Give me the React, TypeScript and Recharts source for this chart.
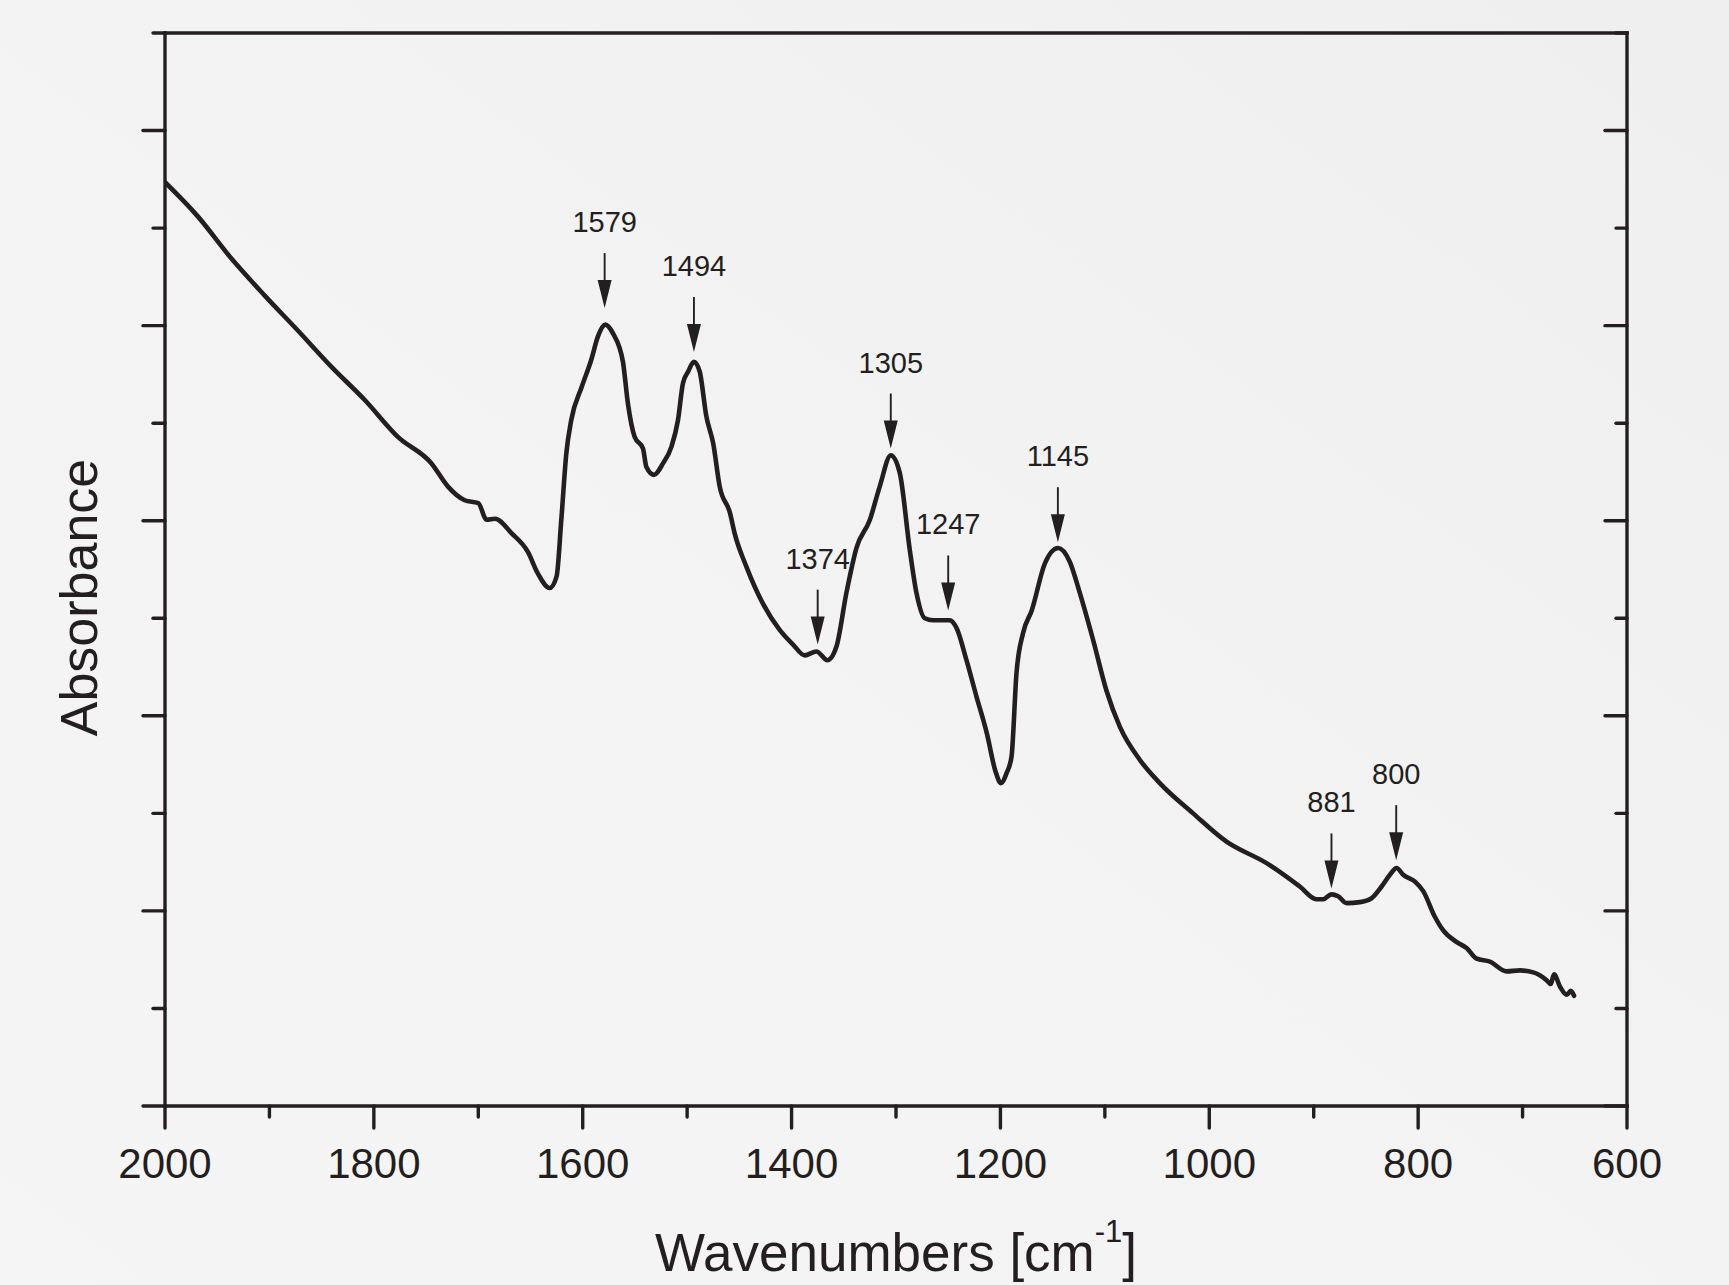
import React from 'react';
import { LineChart, Line, XAxis, YAxis, ReferenceDot } from 'recharts';

const INK = '#231f20';
const FONT = '"Liberation Sans", Arial, Helvetica, sans-serif';

// Spectrum (wavenumber, absorbance in axis units)
const wavenumbers = [
  2000, 1968.6, 1936.6, 1904.7, 1872.8, 1840.8, 1808.9, 1777, 1745, 1729, 1713, 1700, 1692, 1684,
  1668, 1652.5, 1643, 1631.7, 1625, 1620.5, 1615.7, 1611, 1601, 1591.8, 1585.4, 1578.3, 1571,
  1561.5, 1556.7, 1550.3, 1542.3, 1539, 1531.8, 1523, 1515, 1508.8, 1504, 1499, 1493.5, 1488,
  1481.6, 1475, 1468.8, 1459, 1454.5, 1443.3, 1427.4, 1411.4, 1398.6, 1387.4, 1376.2, 1365.7,
  1357, 1347.5, 1337.9, 1325, 1315.6, 1305, 1296.4, 1286.8, 1280.4, 1272.5, 1264.5, 1248.5, 1242,
  1232.5, 1223, 1213, 1204.7, 1199.5, 1194.2, 1189.4, 1184.6, 1178.3, 1170, 1157.5, 1144.8,
  1133.6, 1124, 1111.3, 1098.5, 1085.7, 1066.6, 1047.4, 1015.5, 983.5, 945.2, 913.3, 897.3, 891,
  883, 876.6, 868.5, 855.8, 844.6, 835, 827, 820.6, 814.3, 803, 795, 784, 776, 763, 753.6, 744,
  731.3, 715.3, 702.5, 689.8, 677, 673, 669.9, 664, 657.7, 653.8, 650.7,
];
const absorbance = [
  9.47, 9.12, 8.69, 8.31, 7.95, 7.58, 7.24, 6.86, 6.59, 6.35, 6.21, 6.18, 6.01, 6.02,
  5.87, 5.68, 5.46, 5.31, 5.43, 6.01, 6.69, 7.03, 7.37, 7.65, 7.89, 8.01, 7.92,
  7.63, 7.2, 6.86, 6.74, 6.55, 6.47, 6.59, 6.76, 7.03, 7.41, 7.53, 7.63, 7.53,
  7.07, 6.79, 6.35, 6.08, 5.87, 5.53, 5.15, 4.88, 4.73, 4.62, 4.66, 4.57,
  4.71, 5.26, 5.72, 6.01, 6.35, 6.67, 6.49, 5.7, 5.26, 5.0, 4.98, 4.98, 4.9,
  4.57, 4.2, 3.82, 3.43, 3.31, 3.41, 3.58, 4.44, 4.85, 5.08, 5.56, 5.72,
  5.58, 5.26, 4.78, 4.26, 3.89, 3.55, 3.31, 3.0, 2.71, 2.49, 2.25, 2.12, 2.12,
  2.17, 2.15, 2.08, 2.09, 2.13, 2.25, 2.37, 2.44, 2.37, 2.3, 2.2, 1.94, 1.8, 1.68, 1.62, 1.51,
  1.48, 1.38, 1.39, 1.37, 1.29, 1.25, 1.35, 1.22, 1.14, 1.18, 1.13,
];

const xTicks = [2000, 1900, 1800, 1700, 1600, 1500, 1400, 1300, 1200, 1100, 1000, 900, 800, 700, 600];
const yTicks = [0, 1, 2, 3, 4, 5, 6, 7, 8, 9, 10, 11];

const peakLabels = ['1579', '1494', '1374', '1305', '1247', '1145', '881', '800'];
const peakPositions = [1579, 1493.5, 1375, 1305, 1250, 1145, 883, 821];
const arrowTips = [8.18, 7.73, 4.73, 6.74, 5.08, 5.78, 2.23, 2.52];

const data = wavenumbers.map((wn, i) => ({ wn, a: absorbance[i] }));

const isMajorX = (v: number) => v % 200 === 0;
const isMajorY = (v: number) => v % 2 === 0;

const TICK_W = 3.4;

const BottomTick = (p: any) => {
  const { x, y, payload } = p;
  const major = isMajorX(payload.value);
  return (
    <g>
      <line x1={x} y1={y} x2={x} y2={y + (major ? 22 : 11)} stroke={INK} strokeWidth={TICK_W} strokeLinecap="round" />
      {major && (
        <text x={x} y={y + 72} textAnchor="middle" fontSize={42} fill={INK} fontFamily={FONT}>
          {payload.value}
        </text>
      )}
    </g>
  );
};

const TopTick = (p: any) => {
  const { x, y, payload } = p;
  const major = isMajorX(payload.value);
  return <line x1={x} y1={y} x2={x} y2={y + (major ? 22 : 11)} stroke={INK} strokeWidth={TICK_W} strokeLinecap="round" />;
};

const LeftTick = (p: any) => {
  const { x, y, payload } = p;
  const major = isMajorY(payload.value);
  return <line x1={x} y1={y} x2={x - (major ? 22 : 12)} y2={y} stroke={INK} strokeWidth={TICK_W} strokeLinecap="round" />;
};

const RightTick = (p: any) => {
  const { x, y, payload } = p;
  const major = isMajorY(payload.value);
  return <line x1={x} y1={y} x2={x - (major ? 22 : 11)} y2={y} stroke={INK} strokeWidth={TICK_W} strokeLinecap="round" />;
};

const XTitle = (p: any) => {
  const vb = p.viewBox || { x: 165, y: 1106, width: 1462, height: 100 };
  const cx = vb.x + vb.width / 2;
  const by = vb.y + 165;
  return (
    <text x={cx} y={by} textAnchor="middle" fontSize={53} fill={INK} fontFamily={FONT}>
      <tspan>Wavenumbers [cm</tspan>
      <tspan fontSize={31} dy={-29}>-1</tspan>
      <tspan dy={29}>]</tspan>
    </text>
  );
};

const YTitle = (p: any) => {
  const vb = p.viewBox || { x: 65, y: 33, width: 100, height: 1073 };
  const bx = vb.x + 32;
  const cy = vb.y + vb.height / 2 + 28;
  return (
    <text
      x={bx}
      y={cy}
      transform={`rotate(-90, ${bx}, ${cy})`}
      textAnchor="middle"
      fontSize={52}
      fill={INK}
      fontFamily={FONT}
    >
      Absorbance
    </text>
  );
};

const makeArrow = (label: string) => (p: any) => {
  const { cx, cy } = p;
  return (
    <g>
      <line x1={cx} y1={cy - 55} x2={cx} y2={cy - 26} stroke={INK} strokeWidth={1.9} />
      <polygon points={`${cx - 7},${cy - 28} ${cx + 7},${cy - 28} ${cx},${cy}`} fill={INK} />
      <text x={cx} y={cy - 76} textAnchor="middle" fontSize={29} fill={INK} fontFamily={FONT}>
        {label}
      </text>
    </g>
  );
};

const axisLineStyle = { stroke: INK, strokeWidth: TICK_W, strokeLinecap: 'square' as const };

export default function App() {
  return (
    <div
      style={{
        position: 'absolute',
        left: 0,
        top: 0,
        width: 1729,
        height: 1285,
        background: 'linear-gradient(to top right, #f5f5f5 0%, #f3f3f3 50%, #efefef 100%)',
      }}
    >
      <LineChart width={1729} height={1285} data={data} margin={{ top: 32, right: 101, bottom: 79, left: 65 }}>
        <XAxis
          xAxisId="bottom"
          dataKey="wn"
          type="number"
          domain={[600, 2000]}
          reversed
          allowDataOverflow
          ticks={xTicks}
          interval={0}
          tickSize={0}
          tickMargin={0}
          tickLine={false}
          tick={(p: any) => <BottomTick {...p} />}
          axisLine={axisLineStyle}
          height={100}
          label={(p: any) => <XTitle {...p} />}
        />
        <XAxis
          xAxisId="top"
          orientation="top"
          type="number"
          domain={[600, 2000]}
          reversed
          allowDataOverflow
          ticks={xTicks}
          interval={0}
          tickSize={0}
          tickMargin={0}
          tickLine={false}
          tick={(p: any) => <TopTick {...p} />}
          axisLine={axisLineStyle}
          height={1}
        />
        <YAxis
          yAxisId="left"
          type="number"
          domain={[0, 11]}
          allowDataOverflow
          ticks={yTicks}
          interval={0}
          tickSize={0}
          tickMargin={0}
          tickLine={false}
          tick={(p: any) => <LeftTick {...p} />}
          axisLine={axisLineStyle}
          width={100}
          label={(p: any) => <YTitle {...p} />}
        />
        <YAxis
          yAxisId="right"
          orientation="right"
          type="number"
          domain={[0, 11]}
          allowDataOverflow
          ticks={yTicks}
          interval={0}
          tickSize={0}
          tickMargin={0}
          tickLine={false}
          tick={(p: any) => <RightTick {...p} />}
          axisLine={axisLineStyle}
          width={1}
        />
        <Line
          xAxisId="bottom"
          yAxisId="left"
          type="monotone"
          dataKey="a"
          stroke={INK}
          strokeWidth={4.6}
          strokeLinejoin="round"
          strokeLinecap="round"
          dot={false}
          activeDot={false}
          isAnimationActive={false}
        />
        {peakLabels.map((lab, i) => (
          <ReferenceDot
            key={lab}
            xAxisId="bottom"
            yAxisId="left"
            x={peakPositions[i]}
            y={arrowTips[i]}
            r={1}
            shape={makeArrow(lab)}
          />
        ))}
      </LineChart>
    </div>
  );
}
